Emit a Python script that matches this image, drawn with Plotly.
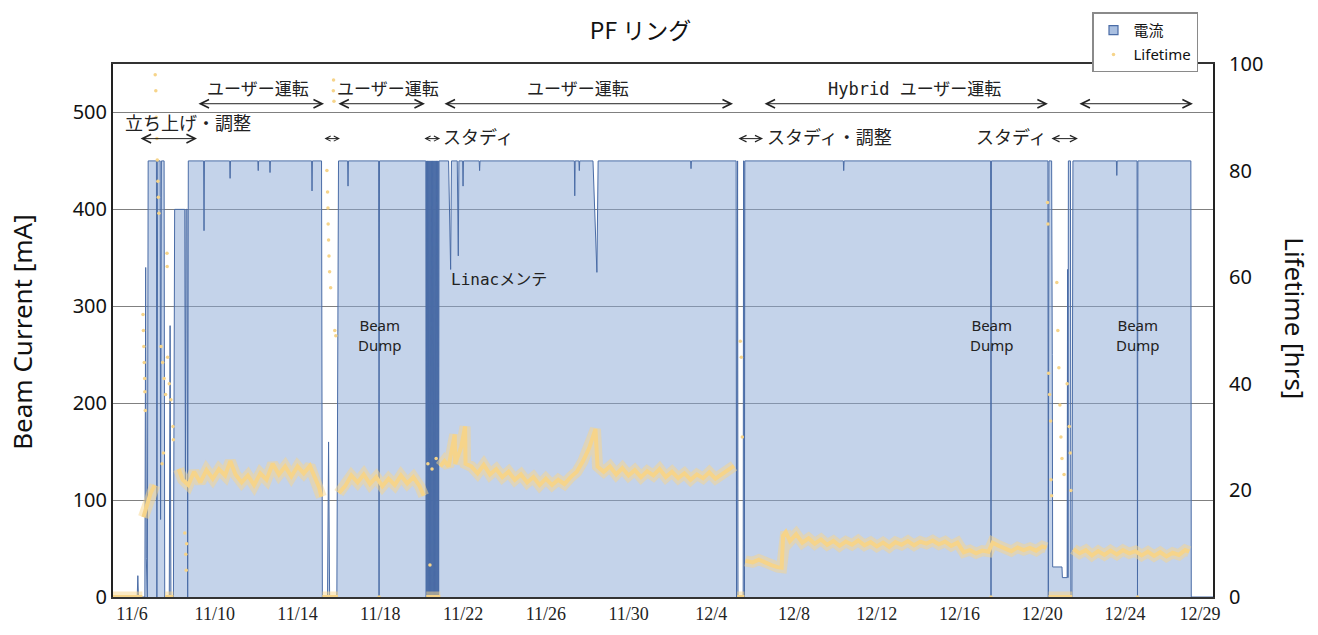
import pandas as pd
import plotly.graph_objects as go

# ---- data (day offsets counted from 11/6 00:00) ----
START = pd.Timestamp("2017-11-06")

# stored beam current [mA]
cur_day = [
    -0.92, 0.25, 0.28, 0.31, 0.62, 0.66, 0.69, 0.74, 0.78,
    1.18, 1.20, 1.24, 1.36, 1.38, 1.42, 1.55, 1.58,
    1.80, 1.84, 1.88, 2.00, 2.06, 2.55, 2.58, 2.61, 2.66, 2.69, 2.72,
    3.46, 3.48, 3.50, 4.72, 4.74, 4.76, 6.08, 6.10, 6.12, 6.65, 6.67, 6.69,
    8.68, 8.70, 8.72, 9.16, 9.20, 9.45, 9.50, 9.55, 9.90, 9.98,
    10.42, 10.44, 10.46, 11.92, 11.94, 11.96,
    14.20, 14.22, 14.24, 14.26, 14.28, 14.30, 14.32, 14.34, 14.36, 14.38, 14.40, 14.42,
    14.44, 14.46, 14.48, 14.50, 14.52, 14.54, 14.56, 14.58, 14.60, 14.62, 14.64, 14.66,
    14.68, 14.70, 14.72, 14.74, 14.76, 14.78, 14.80, 14.82, 14.84, 14.86,
    15.30, 15.40, 15.44, 15.72, 15.77, 15.80, 15.98, 16.00, 16.02, 16.78, 16.80, 16.82,
    21.38, 21.40, 21.42, 21.60, 21.62, 21.64, 22.28, 22.47, 22.53,
    27.00, 27.02, 27.04,
    29.20, 29.22, 29.24, 29.27, 29.29, 29.54, 29.56, 29.58, 29.60, 29.62,
    34.38, 34.40, 34.42, 41.50, 41.52, 41.54,
    44.27, 44.29, 44.32, 44.45, 44.48, 44.50, 44.95, 44.97, 45.20, 45.22, 45.24, 45.26,
    45.36, 45.38, 45.43, 45.48,
    47.58, 47.60, 47.62, 48.58, 48.60, 48.62, 51.18, 51.20, 52.30,
]
cur_ma = [
    0, 0, 22, 0, 0, 340, 40, 0, 450,
    450, 0, 450, 450, 80, 450, 450, 0,
    0, 280, 0, 0, 400, 400, 120, 400, 400, 0, 450,
    450, 378, 450, 450, 432, 450, 450, 440, 450, 450, 438, 450,
    450, 419, 450, 450, 0, 0, 160, 0, 0, 450,
    450, 424, 450, 450, 0, 450,
    450, 0, 450, 0, 450, 0, 450, 0, 450, 0, 450, 0,
    450, 0, 450, 0, 450, 0, 450, 0, 450, 0, 450, 0,
    450, 0, 450, 0, 450, 0, 450, 0, 450, 450,
    450, 338, 450, 450, 352, 450, 450, 424, 450, 450, 440, 450,
    450, 414, 450, 450, 440, 450, 450, 335, 450,
    450, 442, 450,
    450, 0, 450, 450, 0, 0, 450, 450, 0, 450,
    450, 440, 450, 450, 0, 450,
    450, 0, 450, 450, 250, 31, 31, 20, 20, 338, 20, 450,
    450, 0, 0, 450,
    450, 435, 450, 450, 0, 450, 450, 0, 0,
]

# beam lifetime [hrs], continuous records (None separates runs)
life_day = [
    -0.92, 0.50, None,
    0.55, 0.70, 0.90, 1.10, None,
    1.60, 2.00, None,
    2.25, 2.45, 2.72, 3.00, 3.30, 3.60, 3.90, 4.20, 4.50, 4.75, 5.00, 5.30, 5.60, 5.90,
    6.20, 6.50, 6.80, 7.10, 7.40, 7.70, 8.00, 8.30, 8.60, 8.85, 9.05, 9.15, None,
    9.20, 9.95, None,
    10.00, 10.30, 10.60, 10.90, 11.20, 11.50, 11.80, 12.10, 12.40, 12.70, 13.00, 13.30,
    13.60, 13.90, 14.10, None,
    14.22, 14.90, None,
    14.90, 15.10, 15.30, 15.60, 15.62, 15.90, 16.10, 16.12, 16.40, 16.70, 17.00, 17.30,
    17.60, 17.90, 18.20, 18.50, 18.80, 19.10, 19.40, 19.70, 20.00, 20.30, 20.60, 20.90,
    21.20, 21.50, 21.80, 22.10, 22.40, 22.50, 22.80, 23.10, 23.40, 23.70, 24.00, 24.30,
    24.60, 24.90, 25.20, 25.50, 25.80, 26.10, 26.40, 26.70, 27.00, 27.30, 27.60, 27.90,
    28.20, 28.50, 28.80, 29.10, None,
    29.25, 29.60, None,
    29.65, 30.00, 30.30, 30.60, 30.90, 31.20, 31.40, 31.47, 31.60, 31.80, 32.10, 32.40,
    32.70, 33.00, 33.30, 33.60, 33.90, 34.20, 34.50, 34.80, 35.10, 35.40, 35.70, 36.00,
    36.30, 36.60, 36.90, 37.20, 37.50, 37.80, 38.10, 38.40, 38.70, 39.00, 39.30, 39.60,
    39.90, 40.20, 40.50, 40.80, 41.10, 41.40, 41.60, 41.90, 42.20, 42.50, 42.80, 43.10,
    43.40, 43.70, 44.00, 44.20, None,
    44.30, 45.45, None,
    45.50, 45.80, 46.10, 46.40, 46.70, 47.00, 47.30, 47.60, 47.90, 48.20, 48.50, 48.80,
    49.10, 49.40, 49.70, 50.00, 50.30, 50.60, 50.90, 51.10,
]
life_hrs = [
    0, 0, None,
    15.0, 17.0, 19.5, 21.0, None,
    0, 0, None,
    24.0, 22.0, 21.0, 23.5, 21.5, 23.8, 22.2, 24.0, 22.8, 25.5, 23.0, 21.5, 22.8, 21.0,
    23.2, 22.0, 25.0, 23.0, 24.5, 22.6, 24.5, 23.2, 24.6, 22.5, 20.5, 18.8, None,
    0, 0, None,
    19.5, 20.8, 22.8, 21.5, 23.0, 21.2, 22.5, 20.8, 22.2, 21.0, 22.8, 21.3,
    22.5, 20.8, 19.0, None,
    0, 0, None,
    24.5, 25.5, 24.5, 30.5, 25.0, 28.0, 32.0, 25.0, 24.5, 23.2, 24.8, 23.0,
    24.0, 22.5, 23.5, 22.0, 23.0, 21.5, 22.5, 21.0, 22.2, 21.0, 22.0, 21.2,
    22.5, 23.5, 25.5, 28.0, 31.5, 24.5, 23.5, 24.5, 23.0, 24.2, 22.8, 23.8,
    22.5, 23.6, 22.8, 24.0, 22.5, 23.5, 22.3, 23.2, 22.0, 23.0, 22.3, 23.4,
    22.2, 23.0, 23.8, 24.6, None,
    0, 0, None,
    6.8, 6.5, 7.0, 6.4, 6.0, 5.6, 5.5, 11.5, 12.2, 10.5, 11.8, 10.2,
    11.0, 10.0, 10.8, 9.8, 10.5, 9.6, 10.4, 9.8, 10.6, 9.7, 10.3, 9.5,
    10.2, 9.4, 10.3, 9.8, 10.5, 9.7, 10.4, 10.0, 10.6, 9.9, 10.4, 9.6,
    10.2, 8.4, 8.8, 8.2, 8.7, 8.5, 10.2, 9.6, 9.0, 8.6, 9.3, 8.8,
    9.2, 8.7, 9.5, 9.2, None,
    0, 0, None,
    9.0, 8.2, 8.8, 7.8, 8.6, 7.9, 8.7, 8.0, 8.8, 8.2, 8.6, 7.8,
    8.5, 7.7, 8.4, 7.6, 8.3, 7.9, 8.8, 8.5,
]

# isolated lifetime readings during injection / tuning / dumps
spot_day = [
    0.53, 0.55, 0.57, 0.59, 0.61, 0.62, 0.64,
    1.12, 1.15, 1.17, 1.20, 1.22, 1.25, 1.27, 1.30,
    1.69, 1.70, 1.40, 1.48, 1.55, 1.62, 1.72, 1.80, 1.88, 1.45, 1.52,
    1.98, 2.00, 2.55, 2.60, 2.62, 2.64,
    9.42, 9.45, 9.47, 9.48, 9.50, 9.52, 9.55, 9.60, 9.80, 9.85, 9.73, 9.74, 9.76,
    11.94, 14.30, 14.50, 14.70, 14.40,
    29.40, 29.45, 29.50,
    41.52, 48.60,
    44.25, 44.27, 44.30, 44.35, 44.40, 44.42, 44.45, 44.70, 44.75, 44.80, 44.85,
    44.90, 44.95, 45.05, 45.20, 45.30, 45.35, 45.38,
]
spot_hrs = [
    53, 50, 47, 44, 41, 38.5, 35,
    98, 95, 90, 86, 82, 78, 75, 72,
    64.5, 62, 47, 44, 41, 38, 45, 40, 37, 25, 27,
    32, 29.5, 12, 8, 5, 10,
    80, 76, 73, 70, 67, 64, 61, 58, 50, 49, 95, 97, 93,
    0, 25, 24, 26, 6,
    48, 45, 30,
    0, 0,
    74, 70, 42, 38, 33, 22, 19, 59, 50, 43, 36,
    30, 26, 23, 40, 32, 27, 20,
]

tick_dates = ["2017-11-06", "2017-11-10", "2017-11-14", "2017-11-18", "2017-11-22",
              "2017-11-26", "2017-11-30", "2017-12-04", "2017-12-08", "2017-12-12",
              "2017-12-16", "2017-12-20", "2017-12-24", "2017-12-27 15:00"]
tick_text = ["11/6", "11/10", "11/14", "11/18", "11/22", "11/26", "11/30",
             "12/4", "12/8", "12/12", "12/16", "12/20", "12/24", "12/29"]


def to_time(days):
    return [None if d is None else START + pd.Timedelta(days=d) for d in days]


def at(d):
    return (START + pd.Timedelta(days=d)).strftime("%Y-%m-%d %H:%M:%S")


FILL = "rgba(138,168,214,0.5)"
LINE = "#4a6ca6"
LIFE = "#f6d48a"
JP = "Noto Sans CJK JP"
MONO_JP = "DejaVu Sans Mono, Noto Sans CJK JP"
INK = "#222"

fig = go.Figure()

fig.add_trace(go.Scatter(
    x=to_time(cur_day), y=cur_ma, mode="lines", fill="tozeroy",
    fillcolor=FILL, line=dict(color=LINE, width=1), showlegend=False,
    hoverinfo="skip",
))
fig.add_trace(go.Scatter(
    x=[None], y=[None], mode="markers", name="電流",
    marker=dict(symbol="square", size=9, color="#a9bfe0",
                line=dict(color=LINE, width=1.2)),
    legendgroup="a",
))
# lifetime record: a soft halo plus a denser core to read as a scatter band
fig.add_trace(go.Scatter(
    x=to_time(life_day), y=life_hrs, yaxis="y2", mode="lines",
    line=dict(color="rgba(247,214,140,0.5)", width=11), connectgaps=False,
    showlegend=False, hoverinfo="skip",
))
fig.add_trace(go.Scatter(
    x=to_time(life_day), y=life_hrs, yaxis="y2", mode="lines",
    line=dict(color=LIFE, width=4), connectgaps=False, showlegend=False,
    hoverinfo="skip",
))
fig.add_trace(go.Scatter(
    x=to_time(spot_day), y=spot_hrs, yaxis="y2", mode="markers",
    name="Lifetime", marker=dict(color=LIFE, size=3.5),
    legendgroup="b",
))

ann = []
ARROW = dict(xref="x", yref="y", axref="x", ayref="y", text="", showarrow=True,
             arrowside="end+start", arrowhead=5, arrowwidth=1, arrowcolor=INK)

# period arrows, upper row
upper = [(3.14, 9.28, "ユーザー運転", 6.09),
         (9.90, 14.16, "ユーザー運転", 12.37),
         (15.03, 29.05, "ユーザー運転", 21.56),
         (30.50, 44.27, "Hybrid ユーザー運転", 37.80),
         (45.72, 51.28, "", None)]
for a, b, label, mid in upper:
    ann.append(dict(x=at(b), y=509, ax=at(a), ay=509, arrowsize=1.7, **ARROW))
    if label:
        ann.append(dict(x=at(mid), y=524, xref="x", yref="y", text=label,
                        showarrow=False, font=dict(family=MONO_JP, size=17, color=INK)))

# period arrows, lower row
lower = [(0.34, 3.14, 1.7), (9.23, 10.05, 1.0), (14.06, 14.89, 1.0),
         (29.24, 30.50, 1.3), (44.37, 45.72, 1.3)]
for a, b, size in lower:
    ann.append(dict(x=at(b), y=473, ax=at(a), ay=473, arrowsize=size, **ARROW))

ann += [
    dict(x=at(2.71), y=490, xref="x", yref="y", text="立ち上げ・調整",
         showarrow=False, font=dict(family=JP, size=18, color=INK)),
    dict(x=at(14.95), y=476, xref="x", yref="y", text="スタディ", xanchor="left",
         showarrow=False, font=dict(family=JP, size=18, color=INK)),
    dict(x=at(30.60), y=476, xref="x", yref="y", text="スタディ・調整", xanchor="left",
         showarrow=False, font=dict(family=JP, size=18, color=INK)),
    dict(x=at(44.30), y=476, xref="x", yref="y", text="スタディ", xanchor="right",
         showarrow=False, font=dict(family=JP, size=18, color=INK)),
    dict(x=at(15.30), y=328, xref="x", yref="y", text="Linacメンテ", xanchor="left",
         showarrow=False, font=dict(family=MONO_JP, size=16, color=INK)),
]
for d in (11.94, 41.52, 48.60):
    ann.append(dict(x=at(d), y=270, xref="x", yref="y", text="Beam<br>Dump",
                    showarrow=False, font=dict(family="Noto Sans", size=15, color=INK)))

# axis titles
ann += [
    dict(x=-0.083, y=0.497, xref="paper", yref="paper", text="Beam Current [mA]",
         xanchor="center", yanchor="middle", textangle=-90, showarrow=False,
         font=dict(family="Noto Sans", size=26, color="#111")),
    dict(x=1.0745, y=0.523, xref="paper", yref="paper", text="Lifetime [hrs]",
         xanchor="center", yanchor="middle", textangle=90, showarrow=False,
         font=dict(family="Noto Sans", size=26, color="#111")),
]

fig.update_layout(
    width=1318, height=635,
    margin=dict(l=113, r=105, t=60, b=38),
    paper_bgcolor="white", plot_bgcolor="white",
    title=dict(text="PF リング", x=0.486, y=0.952, xanchor="center", yanchor="middle",
               font=dict(family=JP, size=23, color="#111")),
    xaxis=dict(
        type="date",
        range=[at(-0.92), at(52.25)],
        tickvals=tick_dates, ticktext=tick_text,
        tickfont=dict(family="Liberation Serif", size=18, color=INK),
        showgrid=False, showline=True, linecolor="#333", linewidth=1.5, mirror=True,
        ticks="", zeroline=False,
    ),
    yaxis=dict(
        range=[0, 550], tickvals=[0, 100, 200, 300, 400, 500],
        tickfont=dict(family="Noto Sans", size=20, color="#111"),
        showgrid=True, gridcolor="#808080", gridwidth=1,
        showline=True, linecolor="#222", linewidth=2, zeroline=False, ticks="",
    ),
    yaxis2=dict(
        range=[0, 100], tickvals=[0, 20, 40, 60, 80, 100], overlaying="y", side="right",
        tickfont=dict(family="Noto Sans", size=20, color="#111"),
        showgrid=False, showline=True, linecolor="#222", linewidth=2, zeroline=False,
        ticks="", ticklabelstandoff=10,
    ),
    legend=dict(
        x=0.89, y=1.097, xanchor="left", yanchor="top",
        bgcolor="white", bordercolor="#8a8a8a", borderwidth=1.5,
        font=dict(family="Noto Sans, Noto Sans CJK JP", size=15, color="#111"),
        tracegroupgap=2, itemwidth=30,
    ),
    annotations=ann,
)

fig.write_html("out.html")
